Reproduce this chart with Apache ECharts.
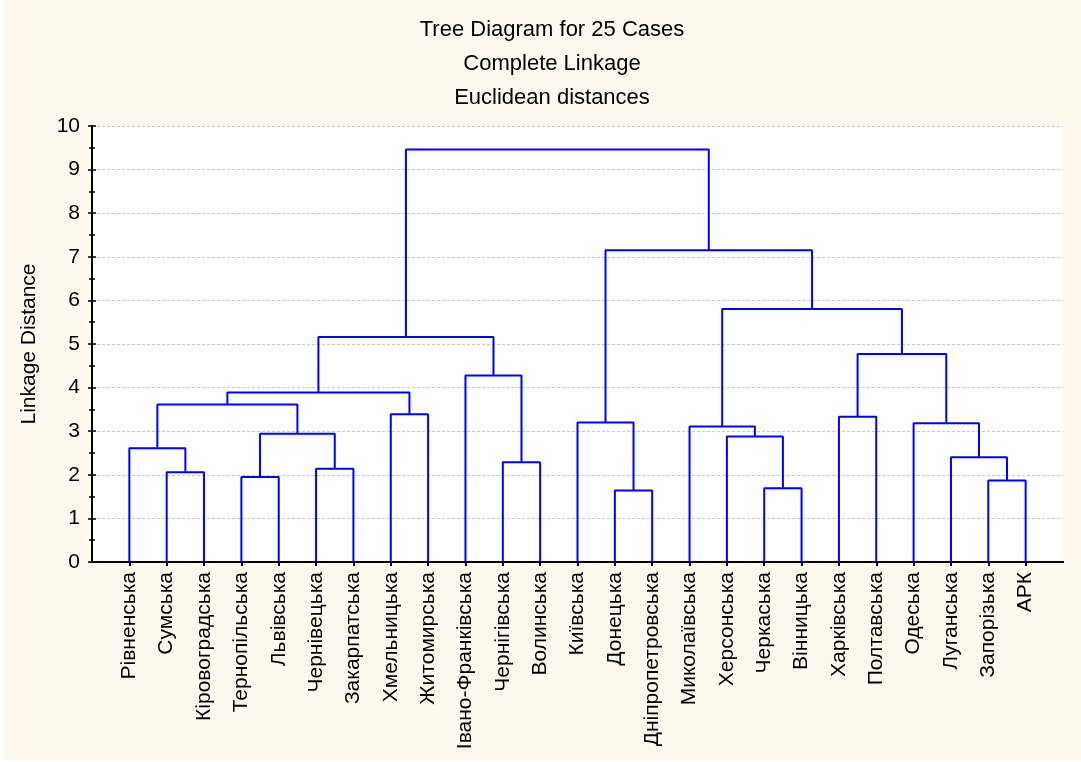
<!DOCTYPE html>
<html>
<head>
<meta charset="utf-8">
<title>Tree Diagram for 25 Cases</title>
<script src="https://cdn.jsdelivr.net/npm/echarts@6/dist/echarts.min.js"></script>
<style>
  html, body { margin: 0; padding: 0; background: #ffffff; }
  #chart { width: 1081px; height: 762px; }
</style>
</head>
<body>
<div id="chart"></div>
<script>
// leaf order as drawn, left to right
const leaves = [
  "Рівненська", "Сумська", "Кіровоградська", "Тернопільська", "Львівська",
  "Чернівецька", "Закарпатська", "Хмельницька", "Житомирська", "Івано-Франківська",
  "Чернігівська", "Волинська", "Київська", "Донецька", "Дніпропетровська",
  "Миколаївська", "Херсонська", "Черкаська", "Вінницька", "Харківська",
  "Полтавська", "Одеська", "Луганська", "Запорізька", "АРК"
];
// merges: node ids 0..24 are leaves, merge k creates node 25 + k
const mergeLeft  = [1, 0, 3, 5, 27, 26, 7, 30, 10, 9, 32, 13, 12, 17, 16, 15, 19, 23, 22, 21, 41, 40, 37, 35];
const mergeRight = [2, 25, 4, 6, 28, 29, 8, 31, 11, 33, 34, 14, 36, 18, 38, 39, 20, 24, 42, 43, 44, 45, 46, 47];
const mergeHeight = [2.06, 2.61, 1.95, 2.14, 2.94, 3.61, 3.39, 3.89, 2.29, 4.28, 5.16, 1.64, 3.20,
  1.69, 2.88, 3.11, 3.33, 1.87, 2.40, 3.18, 4.77, 5.80, 7.15, 9.46];
const yTicks = [0, 1, 2, 3, 4, 5, 6, 7, 8, 9, 10];

const FONT = '"Liberation Sans", Arial, sans-serif';

// position / height of every node
const nodeX = [];
const nodeH = [];
leaves.forEach((name, i) => { nodeX.push(i + 1); nodeH.push(0); });
mergeHeight.forEach((h, k) => {
  nodeX.push((nodeX[mergeLeft[k]] + nodeX[mergeRight[k]]) / 2);
  nodeH.push(h);
});

// one U-shaped link per merge, separated by gaps
let links = [];
mergeHeight.forEach((h, k) => {
  let a = mergeLeft[k], b = mergeRight[k];
  links.push([nodeX[a], nodeH[a]], [nodeX[a], h], [nodeX[b], h], [nodeX[b], nodeH[b]], '-');
});

let leafPos = leaves.map((n, i) => i + 1);

let chart = echarts.init(document.getElementById('chart'));
chart.setOption({
  animation: false,
  backgroundColor: '#ffffff',
  textStyle: { fontFamily: FONT },
  graphic: [
    // cream page and white plot area
    { type: 'rect', z: -10, silent: true, shape: { x: 4, y: 0, width: 1077, height: 760 }, style: { fill: '#fef9ee' } },
    { type: 'rect', z: -9, silent: true, shape: { x: 92, y: 126, width: 971, height: 436 }, style: { fill: '#ffffff' } }
  ],
  title: {
    text: 'Tree Diagram for 25 Cases\nComplete Linkage\nEuclidean distances',
    left: 547,
    textAlign: 'center',
    top: 8,
    textStyle: { fontSize: 22, fontWeight: 'normal', color: '#000', fontFamily: FONT, lineHeight: 34 }
  },
  grid: { left: 92, right: 18, top: 126, bottom: 200 },
  xAxis: [
    {
      type: 'value', min: 0, max: 26, interval: 1, position: 'bottom',
      axisLine: { lineStyle: { color: '#000', width: 2 } },
      axisTick: { show: true, inside: false, length: 4, lineStyle: { color: '#0000ff', width: 2 }, customValues: leafPos },
      axisLabel: {
        rotate: 90, margin: 10, fontSize: 21, color: '#000', fontFamily: FONT,
        customValues: leafPos,
        formatter: v => leaves[v - 1] || ''
      },
      splitLine: { show: false }
    },
    {
      type: 'value', min: 0, max: 26, interval: 1, position: 'top',
      axisLine: { lineStyle: { color: '#000', width: 2 } },
      axisTick: { show: true, inside: true, length: 4, lineStyle: { color: '#000', width: 2 }, customValues: leafPos },
      axisLabel: { show: false },
      splitLine: { show: false }
    }
  ],
  yAxis: [
    {
      type: 'value', min: 0, max: 10, interval: 1, position: 'left',
      name: 'Linkage Distance', nameLocation: 'middle', nameGap: 52, nameRotate: 90,
      nameTextStyle: { fontSize: 21, color: '#000', fontFamily: FONT },
      axisLine: { show: true, lineStyle: { color: '#000', width: 2 } },
      axisTick: { show: true, inside: true, length: 4, lineStyle: { color: '#000', width: 1.5 } },
      minorTick: { show: true, splitNumber: 2, length: 3, lineStyle: { color: '#000', width: 1.5 } },
      axisLabel: { margin: 12, fontSize: 21, color: '#000', fontFamily: FONT, customValues: yTicks },
      splitLine: { show: true, lineStyle: { color: '#c8c8c8', type: [3, 2], width: 1 } }
    },
    {
      type: 'value', min: 0, max: 10, interval: 1, position: 'right',
      axisLine: { show: true, lineStyle: { color: '#000', width: 2 } },
      axisTick: { show: true, inside: true, length: 4, lineStyle: { color: '#000', width: 1.5 } },
      minorTick: { show: true, splitNumber: 2, length: 3, lineStyle: { color: '#000', width: 1.5 } },
      axisLabel: { show: false },
      splitLine: { show: false }
    }
  ],
  series: [{
    type: 'line',
    xAxisIndex: 0,
    yAxisIndex: 0,
    data: links,
    showSymbol: false,
    symbol: 'none',
    connectNulls: false,
    lineStyle: { color: '#0000ff', width: 2 },
    z: 5
  }]
});
</script>
</body>
</html>
